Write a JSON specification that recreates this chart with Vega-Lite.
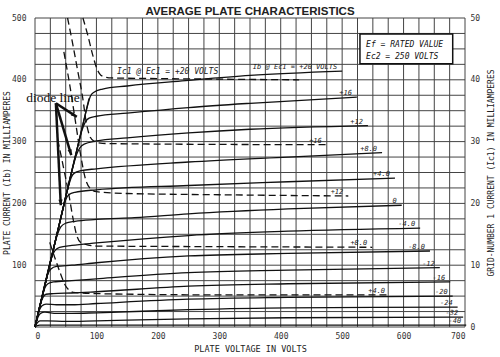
{
  "$schema": "https://vega.github.io/schema/vega-lite/v6.json",
  "width": 430,
  "height": 309,
  "autosize": {"type": "none"},
  "padding": {"left": 35, "top": 18, "right": 35, "bottom": 30},
  "background": "white",
  "config": {"view": {"stroke": null}},
  "title": {"text": "AVERAGE PLATE CHARACTERISTICS", "font": "Liberation Sans", "fontSize": 11.5, "fontWeight": "bold", "color": "#222", "anchor": "middle", "frame": "group", "offset": 3, "dy": 6},
  "datasets": {
    "gx": [{"g":0},{"g":25},{"g":50},{"g":75},{"g":100},{"g":125},{"g":150},{"g":175},{"g":200},{"g":225},{"g":250},{"g":275},{"g":300},{"g":325},{"g":350},{"g":375},{"g":400},{"g":425},{"g":450},{"g":475},{"g":500},{"g":525},{"g":550},{"g":575},{"g":600},{"g":625},{"g":650},{"g":675},{"g":700}],
    "gy": [{"g":0},{"g":25},{"g":50},{"g":75},{"g":100},{"g":125},{"g":150},{"g":175},{"g":200},{"g":225},{"g":250},{"g":275},{"g":300},{"g":325},{"g":350},{"g":375},{"g":400},{"g":425},{"g":450},{"g":475},{"g":500}],
    "ib": [
      {"ec1":"+20","v":0,"i":0},{"ec1":"+20","v":40,"i":168},{"ec1":"+20","v":70,"i":294},{"ec1":"+20","v":80,"i":336},{"ec1":"+20","v":86,"i":360},{"ec1":"+20","v":90,"i":373},{"ec1":"+20","v":96,"i":380},{"ec1":"+20","v":110,"i":385},{"ec1":"+20","v":150,"i":390},{"ec1":"+20","v":250,"i":399},{"ec1":"+20","v":350,"i":407},{"ec1":"+20","v":500,"i":414},
      {"ec1":"+16","v":0,"i":0},{"ec1":"+16","v":40,"i":168},{"ec1":"+16","v":70,"i":294},{"ec1":"+16","v":77,"i":320},{"ec1":"+16","v":82,"i":332},{"ec1":"+16","v":88,"i":338},{"ec1":"+16","v":100,"i":341},{"ec1":"+16","v":150,"i":346},{"ec1":"+16","v":250,"i":355},{"ec1":"+16","v":350,"i":362},{"ec1":"+16","v":524,"i":372},
      {"ec1":"+12","v":0,"i":0},{"ec1":"+12","v":40,"i":168},{"ec1":"+12","v":62,"i":260},{"ec1":"+12","v":68,"i":280},{"ec1":"+12","v":73,"i":290},{"ec1":"+12","v":80,"i":296},{"ec1":"+12","v":100,"i":301},{"ec1":"+12","v":150,"i":306},{"ec1":"+12","v":250,"i":314},{"ec1":"+12","v":350,"i":320},{"ec1":"+12","v":542,"i":326},
      {"ec1":"+8.0","v":0,"i":0},{"ec1":"+8.0","v":40,"i":168},{"ec1":"+8.0","v":54,"i":226},{"ec1":"+8.0","v":59,"i":242},{"ec1":"+8.0","v":64,"i":249},{"ec1":"+8.0","v":75,"i":253},{"ec1":"+8.0","v":100,"i":256},{"ec1":"+8.0","v":250,"i":267},{"ec1":"+8.0","v":412,"i":275},{"ec1":"+8.0","v":565,"i":282},
      {"ec1":"+4.0","v":0,"i":0},{"ec1":"+4.0","v":40,"i":168},{"ec1":"+4.0","v":46,"i":193},{"ec1":"+4.0","v":50,"i":206},{"ec1":"+4.0","v":55,"i":214},{"ec1":"+4.0","v":65,"i":218},{"ec1":"+4.0","v":100,"i":222},{"ec1":"+4.0","v":250,"i":229},{"ec1":"+4.0","v":412,"i":235},{"ec1":"+4.0","v":586,"i":241},
      {"ec1":"0","v":0,"i":0},{"ec1":"0","v":30,"i":126},{"ec1":"0","v":36,"i":148},{"ec1":"0","v":42,"i":162},{"ec1":"0","v":50,"i":168},{"ec1":"0","v":65,"i":171},{"ec1":"0","v":100,"i":174},{"ec1":"0","v":162,"i":177},{"ec1":"0","v":250,"i":183},{"ec1":"0","v":412,"i":191},{"ec1":"0","v":597,"i":197},
      {"ec1":"-4.0","v":0,"i":0},{"ec1":"-4.0","v":22,"i":92},{"ec1":"-4.0","v":27,"i":112},{"ec1":"-4.0","v":32,"i":123},{"ec1":"-4.0","v":40,"i":129},{"ec1":"-4.0","v":60,"i":132},{"ec1":"-4.0","v":100,"i":136},{"ec1":"-4.0","v":250,"i":148},{"ec1":"-4.0","v":412,"i":155},{"ec1":"-4.0","v":627,"i":160},
      {"ec1":"-8.0","v":0,"i":0},{"ec1":"-8.0","v":17,"i":71},{"ec1":"-8.0","v":21,"i":86},{"ec1":"-8.0","v":26,"i":94},{"ec1":"-8.0","v":35,"i":98},{"ec1":"-8.0","v":60,"i":100},{"ec1":"-8.0","v":100,"i":104},{"ec1":"-8.0","v":250,"i":115},{"ec1":"-8.0","v":412,"i":119},{"ec1":"-8.0","v":643,"i":123},
      {"ec1":"-12","v":0,"i":0},{"ec1":"-12","v":12,"i":50},{"ec1":"-12","v":16,"i":63},{"ec1":"-12","v":21,"i":70},{"ec1":"-12","v":30,"i":73},{"ec1":"-12","v":60,"i":75},{"ec1":"-12","v":100,"i":78},{"ec1":"-12","v":250,"i":88},{"ec1":"-12","v":412,"i":92},{"ec1":"-12","v":659,"i":96},
      {"ec1":"-16","v":0,"i":0},{"ec1":"-16","v":9,"i":38},{"ec1":"-16","v":13,"i":48},{"ec1":"-16","v":18,"i":53},{"ec1":"-16","v":30,"i":54},{"ec1":"-16","v":60,"i":55},{"ec1":"-16","v":100,"i":57},{"ec1":"-16","v":250,"i":66},{"ec1":"-16","v":412,"i":70},{"ec1":"-16","v":676,"i":73},
      {"ec1":"-20","v":0,"i":0},{"ec1":"-20","v":7,"i":27},{"ec1":"-20","v":11,"i":34},{"ec1":"-20","v":18,"i":37},{"ec1":"-20","v":35,"i":36},{"ec1":"-20","v":60,"i":36},{"ec1":"-20","v":100,"i":38},{"ec1":"-20","v":250,"i":45},{"ec1":"-20","v":412,"i":48},{"ec1":"-20","v":680,"i":50},
      {"ec1":"-24","v":0,"i":0},{"ec1":"-24","v":5,"i":16},{"ec1":"-24","v":9,"i":22},{"ec1":"-24","v":16,"i":24},{"ec1":"-24","v":35,"i":22},{"ec1":"-24","v":60,"i":22},{"ec1":"-24","v":100,"i":23},{"ec1":"-24","v":250,"i":28},{"ec1":"-24","v":412,"i":31},{"ec1":"-24","v":688,"i":32},
      {"ec1":"-32","v":0,"i":0},{"ec1":"-32","v":4,"i":7},{"ec1":"-32","v":8,"i":10},{"ec1":"-32","v":20,"i":10},{"ec1":"-32","v":50,"i":9},{"ec1":"-32","v":100,"i":10},{"ec1":"-32","v":250,"i":13},{"ec1":"-32","v":412,"i":15},{"ec1":"-32","v":697,"i":16},
      {"ec1":"-40","v":0,"i":0},{"ec1":"-40","v":3,"i":2},{"ec1":"-40","v":8,"i":3},{"ec1":"-40","v":50,"i":3},{"ec1":"-40","v":100,"i":3},{"ec1":"-40","v":250,"i":3},{"ec1":"-40","v":412,"i":3},{"ec1":"-40","v":702,"i":3}
    ],
    "ic1": [
      {"ec1":"+20","v":78,"i":50},{"ec1":"+20","v":86,"i":47.2},{"ec1":"+20","v":94,"i":44},{"ec1":"+20","v":100,"i":42},{"ec1":"+20","v":105,"i":41},{"ec1":"+20","v":112,"i":40.5},{"ec1":"+20","v":125,"i":40.3},{"ec1":"+20","v":200,"i":40.2},{"ec1":"+20","v":300,"i":40.1},{"ec1":"+20","v":430,"i":40.0},
      {"ec1":"+16","v":53,"i":50},{"ec1":"+16","v":62,"i":45.5},{"ec1":"+16","v":70,"i":41.2},{"ec1":"+16","v":77,"i":37.5},{"ec1":"+16","v":84,"i":32.8},{"ec1":"+16","v":90,"i":30.7},{"ec1":"+16","v":97,"i":30.0},{"ec1":"+16","v":110,"i":29.7},{"ec1":"+16","v":200,"i":29.6},{"ec1":"+16","v":475,"i":29.5},
      {"ec1":"+12","v":47,"i":44.5},{"ec1":"+12","v":56,"i":39.5},{"ec1":"+12","v":65,"i":33.8},{"ec1":"+12","v":74,"i":28},{"ec1":"+12","v":82,"i":24},{"ec1":"+12","v":90,"i":22.4},{"ec1":"+12","v":100,"i":21.9},{"ec1":"+12","v":150,"i":21.6},{"ec1":"+12","v":300,"i":21.4},{"ec1":"+12","v":510,"i":21.2},
      {"ec1":"+8.0","v":37,"i":30.3},{"ec1":"+8.0","v":46,"i":26},{"ec1":"+8.0","v":55,"i":21.5},{"ec1":"+8.0","v":62,"i":17.5},{"ec1":"+8.0","v":68,"i":14.8},{"ec1":"+8.0","v":74,"i":13.7},{"ec1":"+8.0","v":85,"i":13.3},{"ec1":"+8.0","v":100,"i":13.1},{"ec1":"+8.0","v":300,"i":13.0},{"ec1":"+8.0","v":549,"i":12.9},
      {"ec1":"+4.0","v":24,"i":13.7},{"ec1":"+4.0","v":33,"i":11},{"ec1":"+4.0","v":42,"i":8.5},{"ec1":"+4.0","v":49,"i":6.8},{"ec1":"+4.0","v":55,"i":6},{"ec1":"+4.0","v":62,"i":5.6},{"ec1":"+4.0","v":75,"i":5.5},{"ec1":"+4.0","v":100,"i":5.4},{"ec1":"+4.0","v":300,"i":5.2},{"ec1":"+4.0","v":578,"i":5.2}
    ]
  },
  "layer": [
    {
      "layer": [
        {
          "data": {"name": "gx"},
          "mark": {"type": "rule", "color": "#444", "strokeWidth": 1},
          "encoding": {
            "x": {"field": "g", "type": "quantitative", "scale": {"domain": [0, 700], "nice": false},
              "axis": {"values": [0,100,200,300,400,500,600,700], "grid": false, "ticks": false, "domain": false,
                "labelFont": "DejaVu Sans Mono", "labelFontSize": 8, "labelColor": "#333", "labelPadding": 5,
                "title": "PLATE VOLTAGE IN VOLTS", "titleFont": "DejaVu Sans Mono", "titleFontSize": 8.5, "titleFontWeight": "normal", "titleColor": "#222", "titlePadding": 4}}
          }
        },
        {
          "data": {"name": "gy"},
          "mark": {"type": "rule", "color": "#444", "strokeWidth": 1},
          "encoding": {
            "y": {"field": "g", "type": "quantitative", "scale": {"domain": [0, 500], "nice": false},
              "axis": {"values": [100,200,300,400,500], "grid": false, "ticks": false, "domain": false,
                "labelFont": "DejaVu Sans Mono", "labelFontSize": 8, "labelColor": "#333", "labelPadding": 9,
                "title": "PLATE CURRENT (Ib) IN MILLIAMPERES", "titleFont": "DejaVu Sans Mono", "titleFontSize": 8, "titleFontWeight": "normal", "titleColor": "#222", "titlePadding": 0}}
          }
        },
        {
          "data": {"name": "ib"},
          "mark": {"type": "line", "interpolate": "monotone", "color": "#111", "strokeWidth": 1.3},
          "encoding": {
            "x": {"field": "v", "type": "quantitative"},
            "y": {"field": "i", "type": "quantitative"},
            "detail": {"field": "ec1"}
          }
        },
        {
          "data": {"name": "ib"},
          "transform": [
            {"joinaggregate": [{"op": "max", "field": "v", "as": "vmax"}], "groupby": ["ec1"]},
            {"filter": "datum.v === datum.vmax"},
            {"calculate": "datum.ec1 === '+20' ? 'Ib @ Ec1 = +20 VOLTS' : datum.ec1", "as": "lab"}
          ],
          "mark": {"type": "text", "align": "right", "baseline": "bottom", "dx": -5, "dy": -1, "font": "DejaVu Sans Mono", "fontStyle": "italic", "fontSize": 7, "color": "#222"},
          "encoding": {
            "x": {"field": "v", "type": "quantitative"},
            "y": {"field": "i", "type": "quantitative"},
            "text": {"field": "lab"}
          }
        },
        {
          "data": {"values": [{"v": 0, "i": 0, "v2": 88, "i2": 370}]},
          "mark": {"type": "rule", "color": "#111", "strokeWidth": 1.3},
          "encoding": {
            "x": {"field": "v", "type": "quantitative"},
            "y": {"field": "i", "type": "quantitative"},
            "x2": {"field": "v2"},
            "y2": {"field": "i2"}
          }
        },
        {
          "data": {"values": [
            {"v": 34, "i": 362, "v2": 68, "i2": 340, "dir": 303},
            {"v": 34, "i": 362, "v2": 59, "i2": 278, "dir": 343.5},
            {"v": 34, "i": 362, "v2": 42, "i2": 197, "dir": 357}
          ]},
          "layer": [
            {
              "mark": {"type": "rule", "color": "#111", "strokeWidth": 2.5},
              "encoding": {
                "x": {"field": "v", "type": "quantitative"},
                "y": {"field": "i", "type": "quantitative"},
                "x2": {"field": "v2"},
                "y2": {"field": "i2"}
              }
            },
            {
              "mark": {"type": "point", "shape": "M0,0L-0.45,-1.2L0.45,-1.2Z", "filled": true, "color": "#111", "opacity": 1, "size": 90},
              "encoding": {
                "x": {"field": "v2", "type": "quantitative"},
                "y": {"field": "i2", "type": "quantitative"},
                "angle": {"field": "dir", "type": "quantitative", "scale": null}
              }
            }
          ]
        },
        {
          "data": {"values": [{"v": 73, "i": 371, "t": "diode line"}]},
          "mark": {"type": "text", "font": "Liberation Serif, Times New Roman, Tinos, serif", "fontSize": 13.5, "color": "#111", "align": "right", "baseline": "middle"},
          "encoding": {
            "x": {"field": "v", "type": "quantitative"},
            "y": {"field": "i", "type": "quantitative"},
            "text": {"field": "t"}
          }
        },
        {
          "data": {"values": [{"v": 529, "i": 474, "v2": 680, "i2": 426}]},
          "mark": {"type": "rect", "fill": "white", "stroke": "#111", "strokeWidth": 1.5},
          "encoding": {
            "x": {"field": "v", "type": "quantitative"},
            "y": {"field": "i", "type": "quantitative"},
            "x2": {"field": "v2"},
            "y2": {"field": "i2"}
          }
        },
        {
          "data": {"values": [{"v": 539, "i": 453, "t": "Ef = RATED VALUE"}, {"v": 539, "i": 434, "t": "Ec2 = 250 VOLTS"}]},
          "mark": {"type": "text", "font": "DejaVu Sans Mono", "fontStyle": "italic", "fontSize": 8, "color": "#111", "align": "left", "baseline": "alphabetic"},
          "encoding": {
            "x": {"field": "v", "type": "quantitative"},
            "y": {"field": "i", "type": "quantitative"},
            "text": {"field": "t"}
          }
        }
      ]
    },
    {
      "layer": [
        {
          "data": {"name": "ic1"},
          "mark": {"type": "line", "interpolate": "monotone", "color": "#111", "strokeWidth": 1.3, "strokeDash": [7, 4]},
          "encoding": {
            "x": {"field": "v", "type": "quantitative"},
            "y": {"field": "i", "type": "quantitative", "scale": {"domain": [0, 50], "nice": false},
              "axis": {"orient": "right", "values": [0, 10, 20, 30, 40, 50], "grid": false, "ticks": false, "domain": false,
                "labelFont": "DejaVu Sans Mono", "labelFontSize": 8, "labelColor": "#333", "labelPadding": 5,
                "title": "GRID-NUMBER 1 CURRENT (Ic1) IN MILLIAMPERES", "titleAngle": 270, "titleFont": "DejaVu Sans Mono", "titleFontSize": 8, "titleFontWeight": "normal", "titleColor": "#222", "titlePadding": 16}},
            "detail": {"field": "ec1"}
          }
        },
        {
          "data": {"name": "ic1"},
          "transform": [
            {"joinaggregate": [{"op": "max", "field": "v", "as": "vmax"}], "groupby": ["ec1"]},
            {"filter": "datum.v === datum.vmax && datum.ec1 !== '+20'"}
          ],
          "mark": {"type": "text", "align": "right", "baseline": "bottom", "dx": -5, "dy": -1, "font": "DejaVu Sans Mono", "fontStyle": "italic", "fontSize": 7, "color": "#222"},
          "encoding": {
            "x": {"field": "v", "type": "quantitative"},
            "y": {"field": "i", "type": "quantitative"},
            "text": {"field": "ec1"}
          }
        },
        {
          "data": {"values": [{"v": 216, "i": 40.5, "t": "Ic1 @ Ec1 = +20 VOLTS"}]},
          "mark": {"type": "text", "align": "center", "baseline": "bottom", "dy": -1, "font": "DejaVu Sans Mono", "fontStyle": "italic", "fontSize": 8, "color": "#222"},
          "encoding": {
            "x": {"field": "v", "type": "quantitative"},
            "y": {"field": "i", "type": "quantitative"},
            "text": {"field": "t"}
          }
        }
      ]
    }
  ],
  "resolve": {"scale": {"y": "independent"}}
}
